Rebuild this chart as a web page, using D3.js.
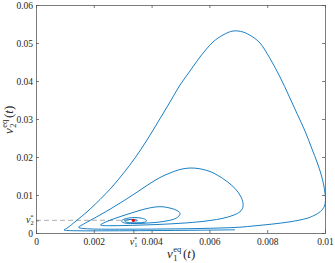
<!DOCTYPE html>
<html><head><meta charset="utf-8">
<script src="https://cdn.jsdelivr.net/npm/d3@7"></script>
<style>
body{margin:0;background:#fff;}
svg{display:block;}
text{font-family:"Liberation Serif","Times New Roman",serif;fill:#262626;}
</style></head>
<body>
<svg id="c" width="335" height="263"></svg>
<script>
// trajectory (v1^eq(t), v2^eq(t))
const v1 = [0.006886,0.005675,0.003945,0.002561,0.001522,0.001107,0.000969,
0.001107,0.001384,0.001799,0.002215,0.002630,0.003045,0.003426,0.003841,0.004221,0.004637,0.004983,0.005329,0.005675,0.006125,0.006471,0.006817,0.007163,0.007474,0.007751,0.008097,0.008443,0.008754,0.009031,0.009308,0.009550,0.009723,0.009862,0.009948,0.010000,0.010017,0.009983,0.009844,0.009619,0.009377,0.008789,0.008201,0.007578,0.007059,0.006367,0.005675,0.004810,0.003945,0.003080,0.002388,0.001938,0.001661,0.001522,0.001471,
0.001592,0.001869,0.002215,0.002630,0.003080,0.003529,0.003945,0.004291,0.004637,0.004983,0.005329,0.005675,0.006021,0.006298,0.006609,0.006886,0.007076,0.007163,0.007145,0.007024,0.006782,0.006471,0.006021,0.005675,0.005156,0.004637,0.004118,0.003599,0.003080,0.002630,0.002353,0.002232,
0.002353,0.002630,0.002976,0.003356,0.003772,0.004118,0.004394,0.004671,0.004879,0.004983,0.004931,0.004740,0.004464,0.004118,0.003772,0.003426,0.003149,0.003010,0.002958,
0.003045,0.003218,0.003426,0.003633,0.003789,0.003824,0.003737,0.003529,0.003287,0.003114,0.003062,0.003149,0.003287,0.003460,0.003512,0.003426,0.003322,0.003367];
const v2 = [0.000842,0.000737,0.000632,0.000579,0.000579,0.000658,0.000789,
0.001447,0.003158,0.005789,0.008816,0.012105,0.015921,0.019737,0.024474,0.029211,0.034474,0.038947,0.042632,0.046316,0.050263,0.052105,0.053158,0.052895,0.051711,0.050000,0.045921,0.041053,0.036053,0.031447,0.026842,0.022105,0.018684,0.015526,0.012895,0.010526,0.008947,0.007105,0.005658,0.004605,0.003868,0.002947,0.002368,0.001895,0.001526,0.001316,0.001184,0.001079,0.001026,0.001000,0.001000,0.001053,0.001158,0.001316,0.001500,
0.002105,0.003289,0.004737,0.006579,0.008684,0.010921,0.013026,0.014605,0.015789,0.016711,0.017105,0.016895,0.016184,0.015132,0.013553,0.011711,0.009737,0.007895,0.006447,0.005395,0.004553,0.003868,0.003289,0.002974,0.002632,0.002395,0.002211,0.002079,0.001974,0.001921,0.001947,0.002105,
0.002684,0.003553,0.004474,0.005395,0.006316,0.006842,0.006895,0.006500,0.005921,0.005184,0.004342,0.003553,0.003105,0.002763,0.002579,0.002500,0.002553,0.002763,0.003158,
0.003632,0.003947,0.004053,0.003921,0.003579,0.003158,0.002816,0.002684,0.002711,0.002895,0.003211,0.003474,0.003553,0.003474,0.003289,0.003158,0.003211,0.003342];
const eqPoint = [0.003367, 0.003342]; // (v1*, v2*)
const xTicks = [0, 0.002, 0.004, 0.006, 0.008, 0.01];
const xTickLabels = ["0", "0.002", "0.004", "0.006", "0.008", "0.01"];
const yTicks = [0, 0.01, 0.02, 0.03, 0.04, 0.05, 0.06];
const yTickLabels = ["0", "0.01", "0.02", "0.03", "0.04", "0.05", "0.06"];

const svg = d3.select("#c");
const L = 36, R = 325, T = 5, B = 233;
const x = d3.scaleLinear().domain([0, 0.01]).range([L, R]);
const y = d3.scaleLinear().domain([0, 0.06]).range([B, T]);
const axisCol = "#5a5a5a";
const tickFs = 9.5;

// dashed guide
svg.append("line").attr("x1", x(0)).attr("x2", x(eqPoint[0])).attr("y1", y(eqPoint[1])).attr("y2", y(eqPoint[1]))
  .attr("stroke", "#999").attr("stroke-width", 0.8).attr("stroke-dasharray", "5,3");

// trajectory
const pts = v1.map((d, i) => [d, v2[i]]);
svg.append("path").datum(pts)
  .attr("d", d3.line().x(d => x(d[0])).y(d => y(d[1])).curve(d3.curveCatmullRom.alpha(0.5)))
  .attr("fill", "none").attr("stroke", "#0072BD").attr("stroke-width", 0.9);

svg.append("circle").attr("cx", x(eqPoint[0])).attr("cy", y(eqPoint[1])).attr("r", 1.6).attr("fill", "#ff0000");

// axes (inward ticks, box)
svg.append("g").attr("transform", `translate(0,${B})`)
  .call(d3.axisBottom(x).tickValues(xTicks.concat([eqPoint[0]])).tickSize(-3).tickPadding(5)
    .tickFormat((d) => { const i = xTicks.indexOf(d); return i >= 0 ? xTickLabels[i] : ""; }));
svg.append("g").attr("transform", `translate(${L},0)`)
  .call(d3.axisLeft(y).tickValues(yTicks.concat([eqPoint[1]])).tickSize(-3).tickPadding(3)
    .tickFormat((d) => { const i = yTicks.indexOf(d); return i >= 0 ? yTickLabels[i] : ""; }));
svg.append("g").attr("transform", `translate(${R},0)`)
  .call(d3.axisRight(y).tickValues(yTicks).tickSize(-3).tickFormat(""));
svg.append("g").attr("transform", `translate(0,${T})`)
  .call(d3.axisTop(x).tickValues(xTicks).tickSize(-3).tickFormat(""));
svg.selectAll(".domain").attr("stroke", axisCol).attr("stroke-width", 0.8);
svg.selectAll(".tick line").attr("stroke", axisCol).attr("stroke-width", 0.8);
svg.selectAll(".tick text").style("font-family", "Liberation Serif, serif").style("font-size", tickFs + "px").attr("fill", "#333");

// star labels
function starLabel(px, py, sub) {
  const t = svg.append("text").attr("x", px).attr("y", py).style("font-size", "10px").attr("fill", "#333");
  t.append("tspan").text("v").style("font-style", "italic");
  t.append("tspan").text(sub).attr("dy", 2).style("font-size", "6.5px");
  t.append("tspan").text("*").attr("dx", -3.4).attr("dy", -6).style("font-size", "6.5px");
}
starLabel(x(eqPoint[0]) - 3.5, B + 12, "1");
starLabel(26, y(eqPoint[1]) + 2.5, "2");

// axis labels
function axisLabel(g, sub) {
  g.append("text").attr("x", 0).attr("y", 0).style("font-size", "13px").style("font-style", "italic").text("v");
  g.append("text").attr("x", 6.3).attr("y", 3).style("font-size", "8.5px").text(sub);
  g.append("text").attr("x", 6.3).attr("y", -6).style("font-size", "8.5px").text("eq");
  const t = g.append("text").attr("x", 16).attr("y", 0).style("font-size", "13px");
  t.append("tspan").text("(");
  t.append("tspan").style("font-style", "italic").text("t");
  t.append("tspan").text(")");
}
axisLabel(svg.append("g").attr("transform", `translate(167,258)`), "1");
axisLabel(svg.append("g").attr("transform", `translate(13,134) rotate(-90)`), "2");
</script>
</body></html>
